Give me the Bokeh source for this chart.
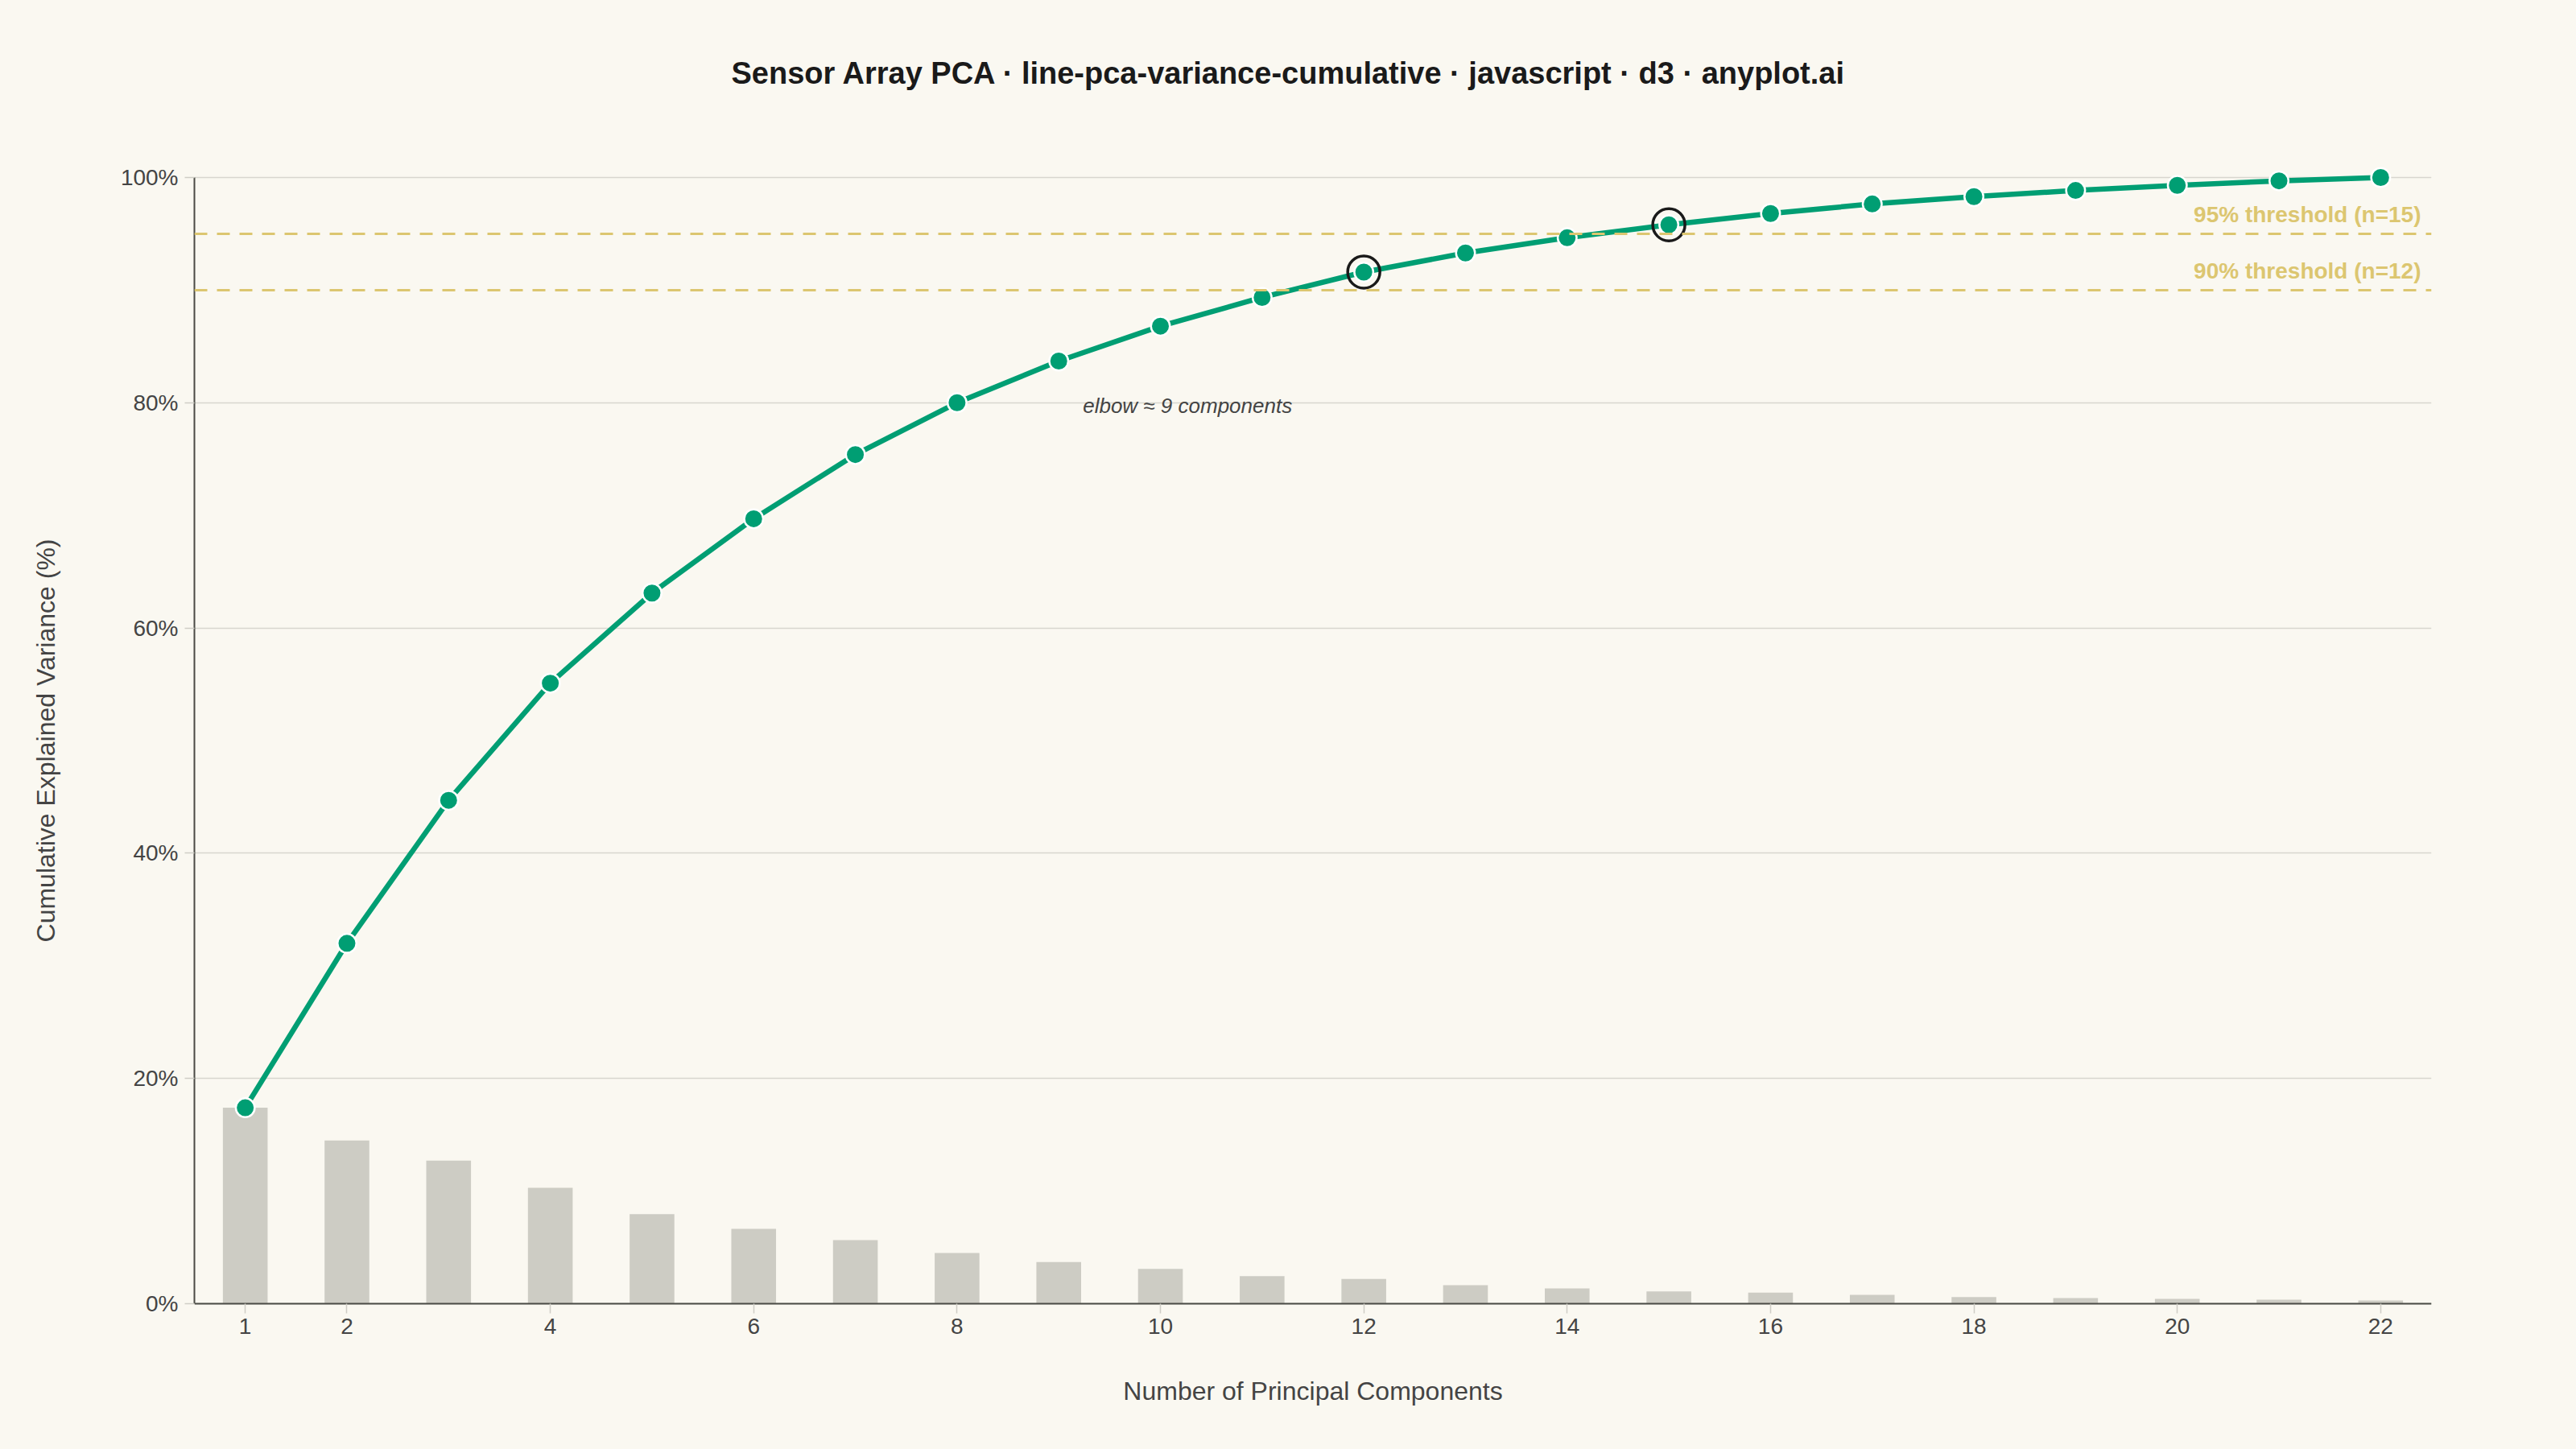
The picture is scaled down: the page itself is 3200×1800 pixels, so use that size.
from bokeh.plotting import figure
from bokeh.models import Range1d, FixedTicker, PrintfTickFormatter, Span, Title
from bokeh.core.properties import value
from bokeh.embed import file_html
from bokeh.resources import INLINE

# ---- data ----
components = list(range(1, 23))
individual = [17.4, 14.5, 12.7, 10.3, 7.95, 6.65, 5.65, 4.5, 3.7, 3.1, 2.45,
              2.2, 1.65, 1.36, 1.1, 0.98, 0.79, 0.6, 0.5, 0.43, 0.36, 0.29]
cumulative = [17.4, 32.0, 44.7, 55.1, 63.1, 69.7, 75.4, 80.0, 83.7, 86.8, 89.35,
              91.6, 93.3, 94.65, 95.8, 96.8, 97.65, 98.3, 98.85, 99.3, 99.7, 100.0]
x_ticks = [1, 2, 4, 6, 8, 10, 12, 14, 16, 18, 20, 22]
y_ticks = [0, 20, 40, 60, 80, 100]
thresholds = [95, 90]
threshold_labels = ["95% threshold (n=15)", "90% threshold (n=12)"]
threshold_n = [15, 12]
elbow_n = 9
elbow_text = "elbow \u2248 9 components"

BG = "#faf8f1"
GREEN = "#009e73"
GOLD = "#dcc670"
BAR = "#cdccc4"
INK = "#444444"
FONT = "Liberation Sans"

p = figure(width=3184, height=1797, output_backend="svg", toolbar_location=None,
           x_range=Range1d(0.5, 22.5), y_range=Range1d(-3, 103),
           min_border_left=241, min_border_right=164,
           min_border_top=178, min_border_bottom=136)
p.background_fill_color = BG
p.border_fill_color = BG
p.outline_line_color = None

# title
p.title.text = "Sensor Array PCA \u00b7 line-pca-variance-cumulative \u00b7 javascript \u00b7 d3 \u00b7 anyplot.ai"
p.title.align = "left"
p.title.offset = 667
p.title.text_font = FONT
p.title.text_font_size = "38px"
p.title.text_font_style = "bold"
p.title.text_color = "#1a1a1a"
p.title.standoff = 134

# axes
for ax in (p.xaxis[0], p.yaxis[0]):
    ax.axis_line_color = "#4a4a45"
    ax.axis_line_width = 2
    ax.major_tick_line_color = "#cfcdc6"
    ax.major_tick_line_width = 1.5
    ax.major_tick_out = 12
    ax.major_tick_in = 0
    ax.minor_tick_line_color = None
    ax.major_label_text_font = FONT
    ax.major_label_text_font_size = "28px"
    ax.major_label_text_color = INK
    ax.axis_label_text_font = FONT
    ax.axis_label_text_font_size = "32px"
    ax.axis_label_text_font_style = "normal"
    ax.axis_label_text_color = INK

p.xaxis.ticker = FixedTicker(ticks=x_ticks)
p.xaxis.fixed_location = 0
p.yaxis.ticker = FixedTicker(ticks=y_ticks)
p.yaxis.formatter = PrintfTickFormatter(format="%d%%")
p.yaxis.bounds = (0, 100)
p.yaxis.axis_label = "Cumulative Explained Variance (%)"
p.xaxis.major_label_standoff = 6
p.yaxis.major_label_standoff = 8
p.yaxis.axis_label_standoff = 72

# x-axis title placed below the axis panel
xlab = Title(text="Number of Principal Components", align="center",
             standoff=92, text_font=FONT, text_font_size="32px",
             text_font_style="normal", text_color=INK)
p.add_layout(xlab, "below")

p.xgrid.grid_line_color = None
p.ygrid.grid_line_color = "#d8d6cf"
p.ygrid.grid_line_width = 1.5

# individual variance bars
p.vbar(x=components, top=individual, width=0.44, bottom=0,
       fill_color=BAR, line_color=None)

# thresholds
for t, lab in zip(thresholds, threshold_labels):
    p.add_layout(Span(location=t, dimension="width", line_color=GOLD,
                      line_width=3, line_dash="16 12"))
    p.text(x=[22.5], y=[t], text=[lab], x_offset=-13, y_offset=-24,
           text_align="right", text_baseline="alphabetic",
           text_font=value(FONT), text_font_size="28px",
           text_font_style="bold", text_color=GOLD)

# cumulative line + markers
p.line(components, cumulative, line_color=GREEN, line_width=6.5)
p.scatter(components, cumulative, size=23.5, fill_color=GREEN,
          line_color="white", line_width=2.5)

# highlight rings at threshold crossings
p.scatter([n for n in threshold_n], [cumulative[n - 1] for n in threshold_n],
          size=40, fill_color=None, line_color="#1a1a1a", line_width=3.5)

# elbow annotation
p.text(x=[elbow_n], y=[cumulative[7]], text=[elbow_text], x_offset=30, y_offset=4,
       text_align="left", text_baseline="middle", text_font=value(FONT),
       text_font_size="26px", text_font_style="italic", text_color=INK)

html = file_html(p, INLINE)
html = html.replace("<head>", "<head><style>html,body{background:#faf8f1;}</style>", 1)
open("out.html", "w").write(html)
